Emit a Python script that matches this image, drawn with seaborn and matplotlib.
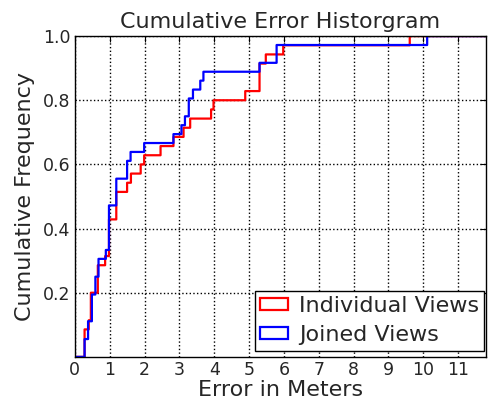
import numpy as np
import matplotlib
matplotlib.use("Agg")
import matplotlib.pyplot as plt
from matplotlib.patches import Patch
import seaborn as sns

# errors (meters)
individual_views = [0.28, 0.28, 0.28, 0.40, 0.47, 0.47, 0.47, 0.66, 0.66, 0.66,
                    0.87, 0.98, 0.98, 0.98, 0.98, 1.19, 1.19, 1.19, 1.50, 1.61,
                    1.90, 1.99, 2.46, 2.83, 3.12, 3.31, 3.91, 3.98, 4.89, 5.30,
                    5.30, 5.30, 5.48, 5.98, 9.61]
joined_views = [0.28, 0.28, 0.38, 0.38, 0.49, 0.49, 0.49, 0.59, 0.59, 0.69,
                0.69, 0.89, 0.98, 0.98, 0.98, 0.98, 0.98, 1.19, 1.19, 1.19,
                1.50, 1.50, 1.60, 1.99, 2.83, 3.07, 3.16, 3.28, 3.28, 3.39,
                3.60, 3.69, 5.31, 5.79, 5.79, 10.12]
series_labels = ["Individual Views", "Joined Views"]
series_colors = ["red", "blue"]
x_ticks = list(range(0, 12))
y_ticks = [0.2, 0.4, 0.6, 0.8, 1.0]

sns.set_style("white")
plt.rcParams['font.family'] = ['DejaVu Sans']

fig = plt.figure(figsize=(4.89, 4.01), dpi=100)
ax = fig.add_axes([0.153, 0.110, 0.841, 0.800])

# cumulative step histograms, fine bins so the steps sit on the values
for data, color in zip([individual_views, joined_views], series_colors):
    sns.histplot(x=data, ax=ax, stat="proportion", cumulative=True,
                 element="step", fill=False, binwidth=0.01, binrange=(0, 11.8),
                 color=color, linewidth=1.6)

ax.set_xlim(0, 11.8)
ax.set_ylim(0, 1.0)
ax.set_xticks(x_ticks)
ax.set_yticks(y_ticks)
ax.set_xticklabels([str(t) for t in x_ticks], fontsize=12.5)
ax.set_yticklabels([f"{t:.1f}" for t in y_ticks], fontsize=12.5)
ax.tick_params(direction="in", top=True, right=True, length=4, width=0.8,
               color="black", pad=3)
ax.grid(True, linestyle=":", color="black", linewidth=1.0)
ax.set_axisbelow(True)
for spine in ax.spines.values():
    spine.set_color("black")
    spine.set_linewidth(1.0)

ax.set_title("Cumulative Error Historgram", fontsize=16, pad=6)
ax.set_xlabel("Error in Meters", fontsize=16, labelpad=0.5)
ax.set_ylabel("Cumulative Frequency", fontsize=16, labelpad=6)

handles = [Patch(facecolor="white", edgecolor=c, linewidth=1.6) for c in series_colors]
leg = ax.legend(handles, series_labels, loc="lower right",
                bbox_to_anchor=(0.996, 0.019), borderaxespad=0, fontsize=16,
                fancybox=False, framealpha=1, edgecolor="black",
                handlelength=1.25, handleheight=0.45,
                handletextpad=0.48, borderpad=0.25, labelspacing=0.4)
leg.get_frame().set_linewidth(1.0)

fig.savefig("out.png", dpi=100)
